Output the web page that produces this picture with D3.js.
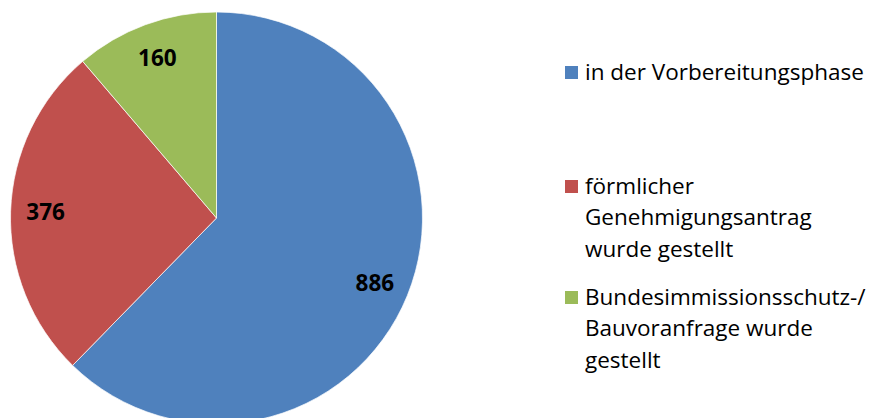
<!DOCTYPE html>
<html><head><meta charset="utf-8">
<script src="https://cdn.jsdelivr.net/npm/d3@7"></script>
<style>body{margin:0;background:#fff}svg{display:block}</style>
</head><body>
<script>
const categories = ["in der Vorbereitungsphase", "förmlicher Genehmigungsantrag wurde gestellt", "Bundesimmissionsschutz-/ Bauvoranfrage wurde gestellt"];
const values = [886, 376, 160];
const legendLines = [["in der Vorbereitungsphase"], ["förmlicher", "Genehmigungsantrag", "wurde gestellt"], ["Bundesimmissionsschutz-/", "Bauvoranfrage wurde", "gestellt"]];
const colors = ["#4F81BD", "#C0504D", "#9BBB59"];

const W = 875, H = 418;
const svg = d3.select("body").append("svg").attr("width", W).attr("height", H);
const cx = 216.5, cy = 218, r = 206;
const data = categories.map((c, i) => ({c, v: values[i], col: colors[i]}));
const pie = d3.pie().value(d => d.v).sort(null);
const arc = d3.arc().innerRadius(0).outerRadius(r);
const g = svg.append("g").attr("transform", `translate(${cx},${cy})`);
const arcs = pie(data);
g.selectAll("path").data(arcs).enter().append("path")
  .attr("d", arc).attr("fill", d => d.data.col)
  .attr("stroke", "#fff").attr("stroke-width", 0.7);
const labelArc = d3.arc().innerRadius(r * 0.83).outerRadius(r * 0.83);
g.selectAll("text").data(arcs).enter().append("text")
  .attr("transform", d => `translate(${labelArc.centroid(d)})`)
  .attr("text-anchor", "middle").attr("dy", "0.36em")
  .style("font-family", "'Open Sans', sans-serif").style("font-weight", "bold").style("font-size", "22.5px")
  .text(d => d.data.v);

const legTop = [66, 180, 291];
const lg = svg.append("g");
legendLines.forEach((lines, i) => {
  lg.append("rect").attr("x", 565).attr("y", legTop[i]).attr("width", 13).attr("height", 13).attr("fill", colors[i]);
  lines.forEach((t, j) => {
    lg.append("text").attr("x", 585).attr("y", legTop[i] + 13.5 + j * 31.5)
      .style("font-family", "'Open Sans', sans-serif").style("font-size", "22.5px").attr("fill", "#000")
      .text(t);
  });
});
</script>
</body></html>
